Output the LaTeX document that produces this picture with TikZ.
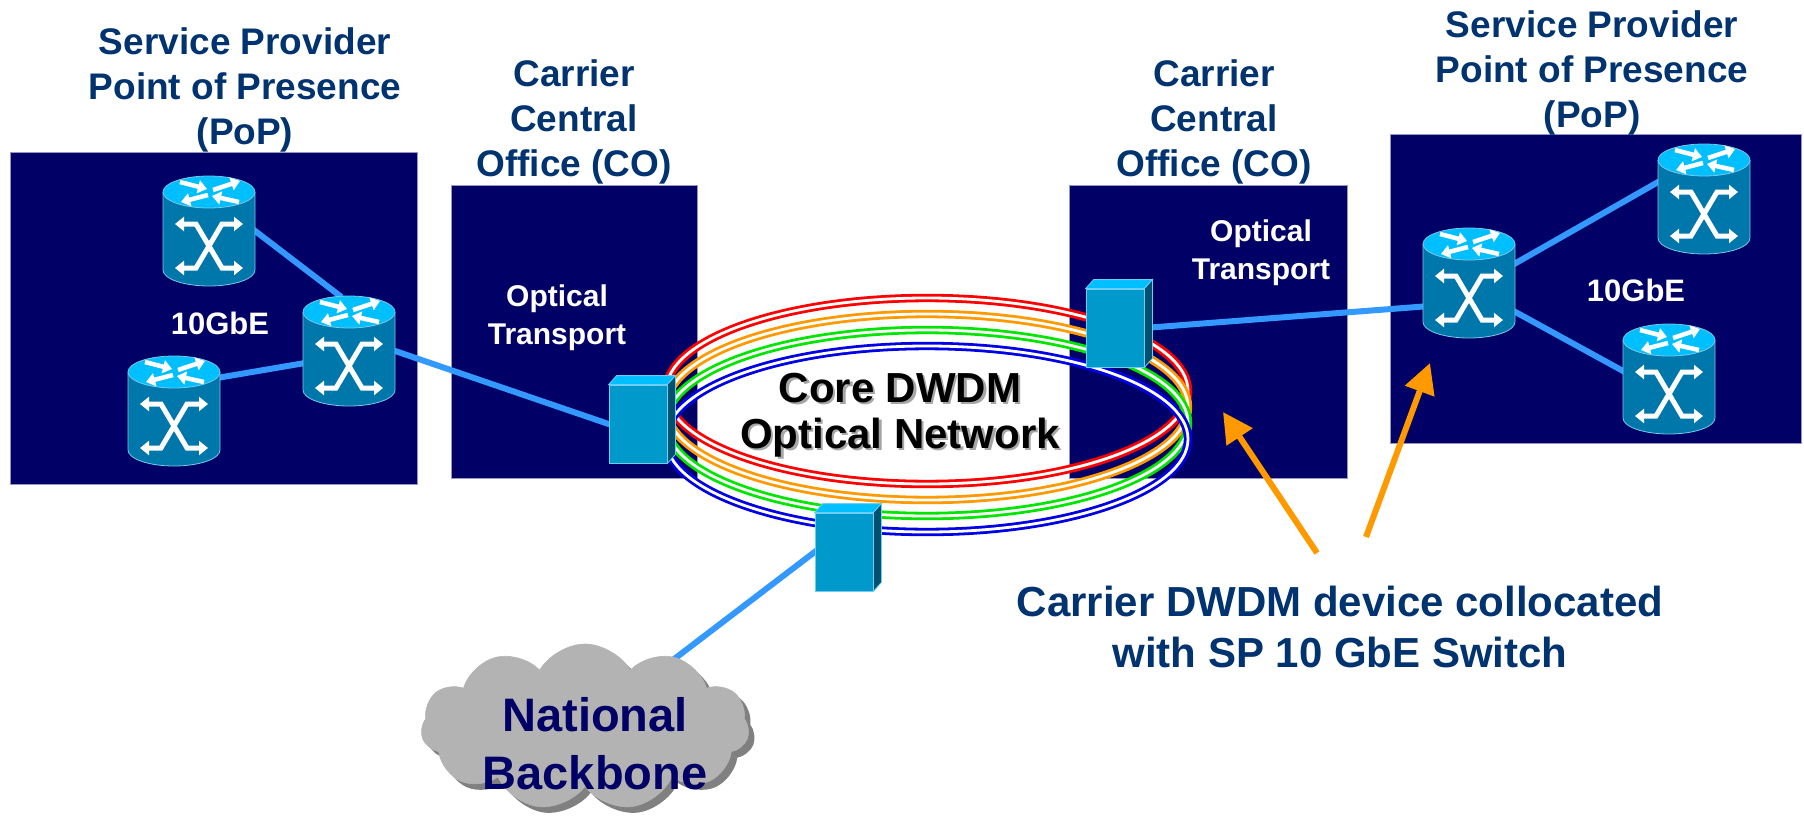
\documentclass[tikz,border=0pt]{standalone}
\usepackage{fontspec}
\setmainfont{Liberation Sans}
\usetikzlibrary{arrows.meta,shapes.symbols,shadows}

\definecolor{navy}{RGB}{0,0,102}
\definecolor{siteedge}{RGB}{150,150,190}
\definecolor{titleblue}{RGB}{0,51,112}
\definecolor{linkblue}{RGB}{51,153,255}
\definecolor{rtop}{RGB}{0,191,255}
\definecolor{rbody}{RGB}{0,119,170}
\definecolor{redge}{RGB}{120,200,230}
\definecolor{dfront}{RGB}{0,153,204}
\definecolor{dtop}{RGB}{0,191,255}
\definecolor{dside}{RGB}{0,80,112}
\definecolor{dedge}{RGB}{110,205,245}
\definecolor{callout}{RGB}{255,153,0}
\definecolor{cloudgray}{RGB}{179,179,179}
\definecolor{cloudshade}{RGB}{128,128,128}
\definecolor{ringred}{RGB}{255,0,0}
\definecolor{ringorange}{RGB}{255,153,0}
\definecolor{ringgreen}{RGB}{0,230,0}
\definecolor{ringblue}{RGB}{0,0,230}

\pgfdeclarelayer{bg}
\pgfdeclarelayer{links}
\pgfsetlayers{bg,links,main}

\tikzset{
  site/.style={fill=navy, draw=siteedge, line width=1pt},
  title/.style={font=\bfseries\fontsize{37}{45}\selectfont, text=titleblue, align=center, inner sep=0pt},
  inlabel/.style={font=\bfseries\fontsize{30}{38}\selectfont, text=white, align=center, inner sep=0pt},
  speed/.style={font=\bfseries\fontsize{31}{37}\selectfont, text=white, inner sep=0pt},
  coretext/.style={font=\bfseries\fontsize{42}{46}\selectfont, align=center, inner sep=0pt},
  note/.style={font=\bfseries\fontsize{42}{51}\selectfont, text=titleblue, align=center, inner sep=0pt},
  rnode/.style={rectangle, minimum width=92pt, minimum height=111pt, inner sep=0pt},
  dev/.style={rectangle, minimum width=58pt, minimum height=78pt, inner sep=0pt,
    fill=dfront, draw=dedge, line width=0.8pt},
  link/.style={draw=linkblue, line width=6pt, shorten <=-3pt, shorten >=-3pt},
  ring/.style={draw=#1, line width=2.8pt, double=white, double distance=2.8pt},
  callarrow/.style={draw=callout, line width=6pt, -{Triangle[length=30pt,width=30pt]}},
  bodyarrow/.style={draw=white, line width=5pt,
    {Triangle[length=9pt,width=14pt]}-{Triangle[length=9pt,width=14pt]}},
  toparrow/.style={draw=white, line width=4.5pt, -{Triangle[length=9pt,width=13pt]}},
  router/.pic={
    \fill[rbody] (-46,-39) -- (-46,39)
      arc[start angle=180, end angle=0, x radius=46, y radius=16] -- (46,-39) -- cycle;
    \draw[redge, line width=0.8pt] (-46,-39) -- (-46,39)
      arc[start angle=180, end angle=0, x radius=46, y radius=16] -- (46,-39);
    \filldraw[fill=rtop, draw=redge, line width=0.8pt] (0,-39) ellipse [x radius=46, y radius=16];
    % crossed double arrows on the body
    \draw[bodyarrow] (-34,-7) -- (-13,-7) -- (13,37) -- (34,37);
    \draw[bodyarrow] (34,-7) -- (13,-7) -- (-13,37) -- (-34,37);
    % four arrows on the lid
    \draw[toparrow] (-29,-49) -- (-2,-42);
    \draw[toparrow] (4,-41) -- (31,-50);
    \draw[toparrow] (-1,-36) -- (-28,-29);
    \draw[toparrow] (30,-29) -- (3,-35);
  }
}

% top and side faces of a DWDM shelf
\newcommand\devfaces[1]{%
  \filldraw[fill=dtop, draw=dedge, line width=0.8pt]
    (#1.north west) -- ++(8,-9) -- ([shift={(8,-9)}]#1.north east) -- (#1.north east) -- cycle;
  \filldraw[fill=dside, draw=dedge, line width=0.8pt]
    (#1.north east) -- ++(8,-9) -- ([shift={(8,-9)}]#1.south east) -- (#1.south east) -- cycle;
}

\begin{document}
\begin{tikzpicture}[x=1pt, y=-1pt]
\useasboundingbox (0,0) rectangle (1804,840);

% sites
\begin{pgfonlayer}{bg}
  \draw[site] (10,153) rectangle (417,484);
  \draw[site] (451,185) rectangle (697,478);
  \draw[site] (1069,185) rectangle (1347,478);
  \draw[site] (1390,135) rectangle (1801,443);
\end{pgfonlayer}

% site titles
\node[title] (popL) at (245,90) {Service Provider\\Point of Presence\\(PoP)};
\node[title] (coL) at (574,122) {Carrier\\Central\\Office (CO)};
\node[title] (coR) at (1214,122) {Carrier\\Central\\Office (CO)};
\node[title] (popR) at (1592,73) {Service Provider\\Point of Presence\\(PoP)};

\node[inlabel] (otL) at (557,318) {Optical\\Transport};
\node[inlabel] (otR) at (1261,253) {Optical\\Transport};
\node[speed] (gbL) at (220,323) {10GbE};
\node[speed] (gbR) at (1636,290) {10GbE};

% switches
\node[rnode] (A) at (209,231) {};
\node[rnode] (B) at (349,351) {};
\node[rnode] (C) at (174,411) {};
\node[rnode] (D) at (1469,283) {};
\node[rnode] (E) at (1704,199) {};
\node[rnode] (F) at (1669,379) {};
\foreach \r in {A,B,C,D,E,F} \pic at (\r.center) {router};

% DWDM shelves
\node[dev] (LD) at (638,424) {};
\node[dev] (RD) at (1115,328) {};
\node[dev] (BD) at (844,552) {};
\devfaces{LD}
\devfaces{RD}
\devfaces{BD}

% backbone cloud
\node[cloud, cloud puffs=11, cloud puff arc=120, aspect=2.1, fill=cloudgray, draw=cloudgray,
      line width=0.6pt, minimum width=328pt, minimum height=166pt,
      drop shadow={shadow xshift=6pt, shadow yshift=-6pt, fill=cloudshade, opacity=1}]
      (NB) at (585,727) {};
\node[font=\bfseries\fontsize{47}{58}\selectfont, text=navy, align=center, inner sep=0pt]
      (NBtext) at (595,744) {National\\Backbone};

% ring label
\node[coretext, text=black!35] (coreshade) at (902.5,417.5) {Core DWDM\\Optical Network};
\node[coretext, text=black] (core) at (900,415) {Core DWDM\\Optical Network};

% links and wavelength ring
\begin{pgfonlayer}{links}
  \draw[link] (A.east) -- (B.100);
  \draw[link] (C.36) -- (B.195);
  \draw[link] (B.east) -- (LD.west);
  \draw[link] (RD.east) -- (D.207);
  \draw[link] (D.23) -- (E.160);
  \draw[link] (D.-32) -- (F.170);
  \draw[link] (BD.west) -- (NB.center);
  \foreach \col/\cy in {ringred/391, ringorange/407, ringgreen/423, ringblue/439}
    \draw[ring=\col] (927,\cy) ellipse [x radius=261, y radius=93];
\end{pgfonlayer}

% callout
\node[note] (note) at (1340,627) {Carrier DWDM device collocated\\with SP 10 GbE Switch};
\coordinate (tailL) at (1317,553);
\coordinate (tipL) at (1223,412);
\coordinate (tailR) at (1366,537);
\coordinate (tipR) at (1430,363);
\draw[callarrow] (tailL) -- (tipL);
\draw[callarrow] (tailR) -- (tipR);
\end{tikzpicture}
\end{document}
